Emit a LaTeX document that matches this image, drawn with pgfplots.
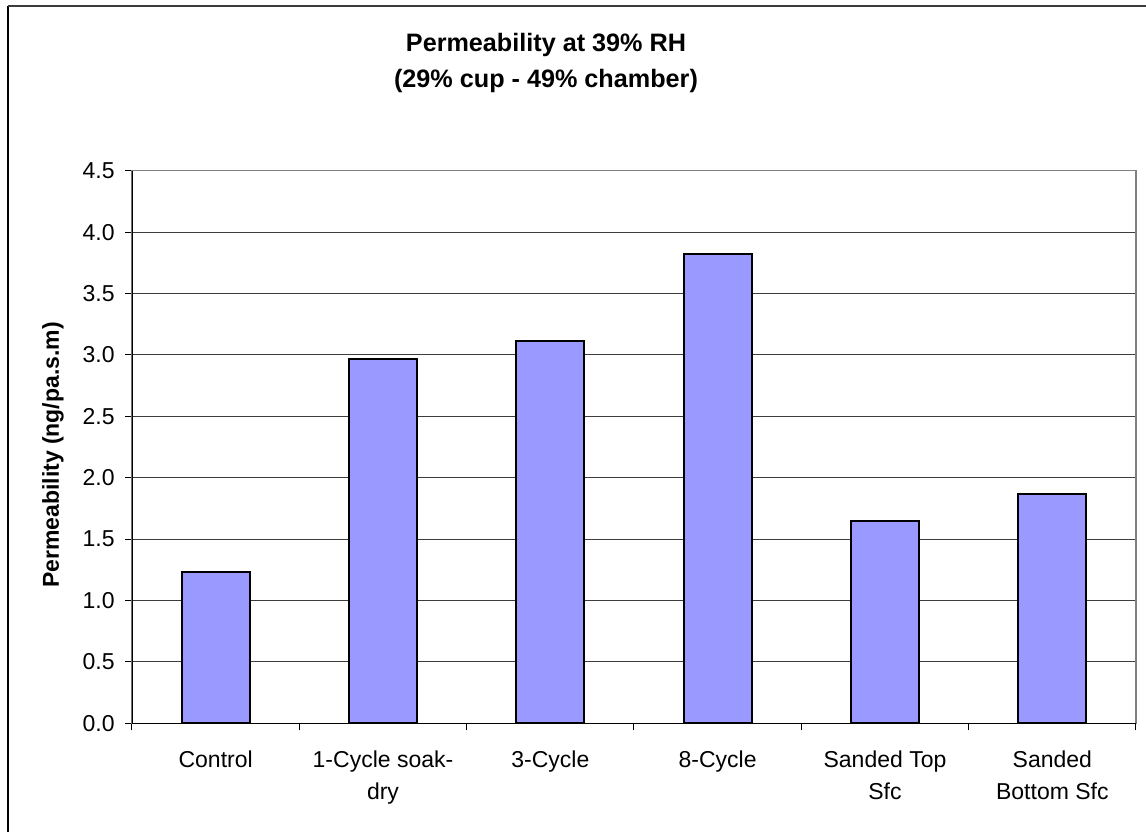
\documentclass[border=0pt]{standalone}
\usepackage{pgfplots}
\pgfplotsset{compat=1.18}
\usepackage{fontspec}
\setmainfont{Liberation Sans}
\definecolor{barfill}{HTML}{9999FF}
\definecolor{gridc}{HTML}{3C3C3C}
\definecolor{plotborder}{HTML}{808080}

\begin{document}
\begin{tikzpicture}
% page: 1146 x 831 px at 0.5pt per px, origin at the plot's lower left corner
\useasboundingbox (-66pt,-53.85pt) rectangle (507pt,361.65pt);

\begin{axis}[
  at={(0,0)}, anchor=south west,
  width=502pt, height=276.3pt,
  scale only axis,
  xmin=-0.5, xmax=5.5,
  ymin=0, ymax=4.5,
  ytick={0,0.5,...,4.5},
  xtick={0,...,5},
  xticklabels={Control, 1-Cycle soak-\\dry, 3-Cycle, 8-Cycle, Sanded Top\\Sfc, Sanded\\Bottom Sfc},
  minor xtick={-0.5,0.5,...,5.5},
  major x tick style={draw=none},
  minor x tick style={black, line width=0.5pt},
  minor tick length=3.5pt,
  major tick length=3.5pt,
  tick align=outside,
  xtick pos=bottom, ytick pos=left,
  ytick style={black, line width=0.5pt},
  ymajorgrids,
  grid style={gridc, line width=0.5pt},
  axis line style={plotborder, line width=0.6pt},
  /pgf/number format/.cd, fixed, fixed zerofill, precision=1, assume math mode=true,
  /pgfplots/.cd,
  tick label style={font=\fontsize{11.5}{16}\selectfont},
  yticklabel style={anchor=east, inner sep=0pt, xshift=-5pt},
  xticklabel style={anchor=north, align=center, inner sep=0pt, yshift=-10pt},
  ybar, bar width=34pt,
]
\addplot[fill=barfill, draw=black, line width=1pt] coordinates {
  (0,1.23) (1,2.97) (2,3.11) (3,3.82) (4,1.65) (5,1.87)
};
\draw[black, line width=0.6pt] (rel axis cs:0,1) -- (rel axis cs:0,0) -- (rel axis cs:1,0);
\end{axis}

% title
\node[anchor=base, font=\bfseries\fontsize{12.6}{15}\selectfont] at (207pt,335.65pt) {Permeability at 39\% RH};
\node[anchor=base, font=\bfseries\fontsize{12.6}{15}\selectfont] at (207pt,317.65pt) {(29\% cup - 49\% chamber)};
% y label
\node[rotate=90, font=\bfseries\fontsize{11.5}{14}\selectfont] at (-39.5pt,134.15pt) {Permeability (ng/pa.s.m)};

% chart area border (runs past the right and bottom edges of the page)
\draw[black, line width=0.75pt] (-62pt,358.65pt) -- (-62pt,-70pt);
\draw[gridc, line width=1pt] (-62pt,358.65pt) -- (520pt,358.65pt);
\end{tikzpicture}
\end{document}
